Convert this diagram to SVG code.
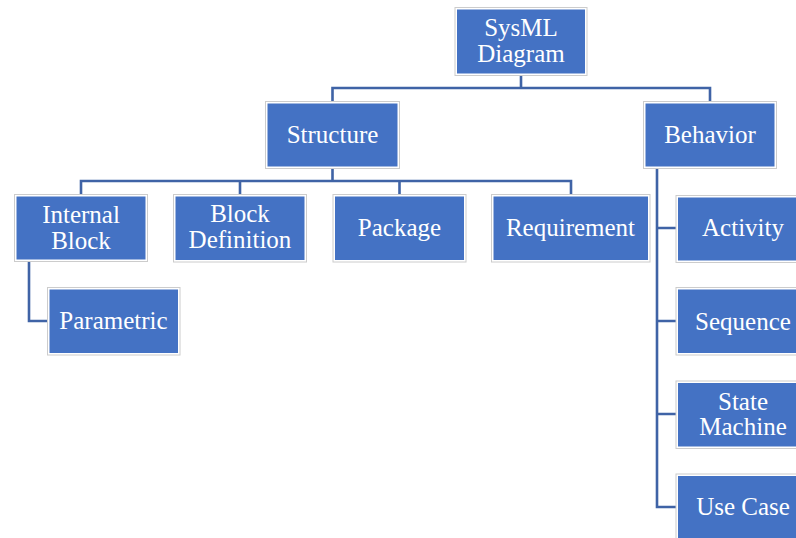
<svg xmlns="http://www.w3.org/2000/svg" width="796" height="538" viewBox="0 0 796 538">
  <style>
    .frame { fill: #ffffff; stroke: #cccccc; stroke-width: 1; }
    .fill { fill: #4472C4; }
    .label { font-size: 25px; fill: #ffffff; text-anchor: middle; }
    .wire { fill: none; stroke: #3F63A6; stroke-width: 2.6; stroke-linejoin: miter; stroke-linecap: butt; }
  </style>
  <rect width="796" height="538" fill="#ffffff"/>

  <!-- connectors -->
  <g id="connectors">
    <path class="wire" d="M521 75 V88 M332.5 88 H710 M332.5 86.7 V101 M710 86.7 V102"/>
    <path class="wire" d="M332.5 169 V181 M81 181 H571 M81 179.7 V194 M240 181 V194 M399.5 181 V194 M571 179.7 V194"/>
    <path class="wire" d="M29 262 V321 H47"/>
    <path class="wire" d="M657 169 V507 H676 M657 228 H676 M657 321 H676 M657 414 H676"/>
  </g>

  <g font-family="'Liberation Serif', 'DejaVu Serif', serif">
  <g id="sysml-diagram">
    <rect class="frame" x="455" y="7.5" width="132" height="68"/>
    <rect class="fill" x="457" y="9.5" width="128" height="64"/>
    <text class="label" x="521" y="36">SysML</text>
    <text class="label" x="521" y="62">Diagram</text>
  </g>

  <g id="structure">
    <rect class="frame" x="265.5" y="101.5" width="134" height="67"/>
    <rect class="fill" x="267.5" y="103.5" width="130" height="63"/>
    <text class="label" x="332.5" y="142.5">Structure</text>
  </g>

  <g id="behavior">
    <rect class="frame" x="643.5" y="101.5" width="133" height="67"/>
    <rect class="fill" x="645.5" y="103.5" width="129" height="63"/>
    <text class="label" x="710" y="142.5">Behavior</text>
  </g>

  <g id="internal-block">
    <rect class="frame" x="14.5" y="194.5" width="133" height="67"/>
    <rect class="fill" x="16.5" y="196.5" width="129" height="63"/>
    <text class="label" x="81" y="222.5">Internal</text>
    <text class="label" x="81" y="248.5">Block</text>
  </g>

  <g id="block-definition">
    <rect class="frame" x="173.5" y="194.5" width="133" height="67.5"/>
    <rect class="fill" x="175.5" y="196.5" width="129" height="63.5"/>
    <text class="label" x="240" y="222">Block</text>
    <text class="label" x="240" y="248">Definition</text>
  </g>

  <g id="package">
    <rect class="frame" x="333" y="194.5" width="133" height="67.5"/>
    <rect class="fill" x="335" y="196.5" width="129" height="63.5"/>
    <text class="label" x="399.5" y="235.5">Package</text>
  </g>

  <g id="requirement">
    <rect class="frame" x="491.5" y="194.5" width="158.5" height="67.5"/>
    <rect class="fill" x="493.5" y="196.5" width="154.5" height="63.5"/>
    <text class="label" x="570.5" y="235.5">Requirement</text>
  </g>

  <g id="parametric">
    <rect class="frame" x="47.5" y="287.5" width="132.5" height="67.5"/>
    <rect class="fill" x="49.5" y="289.5" width="128.5" height="63.5"/>
    <text class="label" x="113.5" y="328.5">Parametric</text>
  </g>

  <g id="activity">
    <rect class="frame" x="676" y="195.5" width="134" height="67"/>
    <rect class="fill" x="678" y="197.5" width="130" height="63"/>
    <text class="label" x="743" y="235.5">Activity</text>
  </g>

  <g id="sequence">
    <rect class="frame" x="676" y="287.5" width="134" height="67.5"/>
    <rect class="fill" x="678" y="289.5" width="130" height="63.5"/>
    <text class="label" x="743" y="329.5">Sequence</text>
  </g>

  <g id="state-machine">
    <rect class="frame" x="676" y="381" width="134" height="67.5"/>
    <rect class="fill" x="678" y="383" width="130" height="63.5"/>
    <text class="label" x="743" y="409.5">State</text>
    <text class="label" x="743" y="435">Machine</text>
  </g>

  <g id="use-case">
    <rect class="frame" x="676" y="474" width="134" height="68"/>
    <rect class="fill" x="678" y="476" width="130" height="64"/>
    <text class="label" x="743" y="515">Use Case</text>
  </g>
  </g>
</svg>
